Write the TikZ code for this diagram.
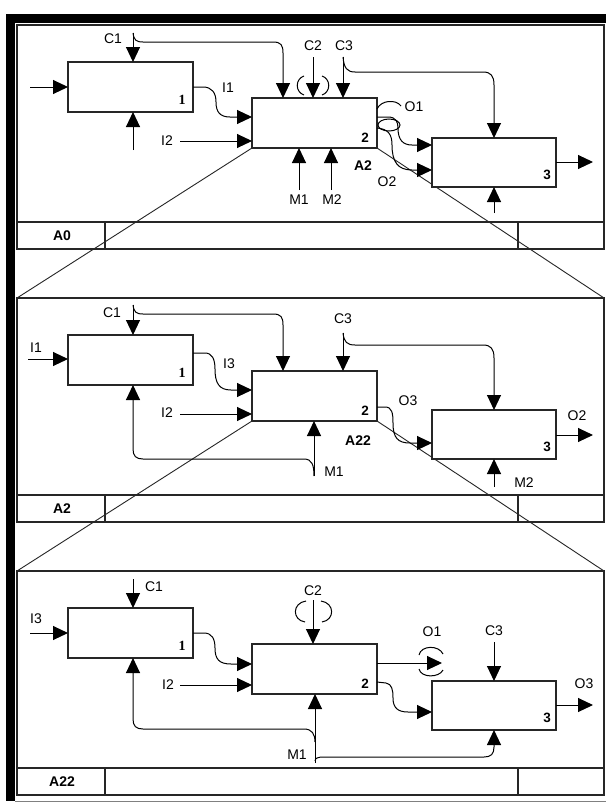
\documentclass[tikz,border=0pt]{standalone}
\usepackage{fontspec}
\setmainfont{Liberation Sans}
\newfontfamily\numserif{Liberation Serif}
\usetikzlibrary{arrows.meta,calc}
\pgfdeclarelayer{bg}
\pgfsetlayers{bg,main}
\tikzset{
  lab/.style={font=\fontsize{14}{16}\selectfont, inner sep=0pt},
  foot/.style={font=\fontsize{14}{16}\selectfont\bfseries, inner sep=0pt},
  num/.style={font=\fontsize{13.5}{15}\selectfont\bfseries, inner sep=0pt},
  blk/.style={draw=black!85, line width=1.4pt, fill=white, minimum width=125pt, minimum height=50pt, inner sep=0pt, outer sep=0pt, anchor=north west},
  conn/.style={line width=1pt},
  arr/.style={conn, -{Triangle[length=15pt,width=14pt]}},
  frm/.style={draw=black!85, line width=1.8pt},
  zoomline/.style={line width=0.9pt, black!85},
}
\newcommand\drawframe[2]{%
  \draw[frm] (17,25) rectangle (604,249);
  \draw[frm] (17,222) -- (604,222);
  \draw[frm] (105,222) -- (105,249);
  \draw[frm] (518,222) -- (518,249);
  \node[foot] (#1foot) at (62,236) {#2};
  \coordinate (#1tl) at (17,25);
  \coordinate (#1tr) at (604,25);
}
\begin{document}
\begin{tikzpicture}[x=1pt,y=-1pt]
\useasboundingbox (0,0) rectangle (606,803);
\begin{pgfonlayer}{bg}
\fill[white] (0,0) rectangle (606,803);
\end{pgfonlayer}
\fill[black] (6,14) rectangle (606,23);
\fill[black] (6,14) rectangle (15,801);
\draw[gray, line width=0.8pt] (15,801) -- (606,801);

% ---------------- Panel 1 (A0)
\begin{scope}
\drawframe{p1}{A0}
\node[blk] (p1b1) at (68,62) {};
\node[blk] (p1b2) at (252,98) {};
\node[blk, minimum width=124pt, minimum height=49pt] (p1b3) at (432,138) {};
\node[num, font=\fontsize{14}{15}\selectfont\numserif\bfseries] (p1n1) at ($(p1b1.south east)+(-11,-12)$) {1};
\node[num] (p1n2) at ($(p1b2.south east)+(-12,-10)$) {2};
\node[num] (p1n3) at ($(p1b3.south east)+(-9,-12)$) {3};
% input
\coordinate (p1in) at (30,87);
\draw[arr] (p1in) -- (p1b1.west);
% C1
\coordinate (p1c1) at (133,33);
\node[lab] (p1lc1) at (113,39) {C1};
\draw[arr] (p1c1) -- (p1b1.north -| p1c1);
\draw[arr] (p1c1) .. controls (134,40) and (136,42) .. (143,42) -- (273,42) .. controls (281,42) and (283,45) .. (283,53) -- (p1b2.north -| 283,0);
% mechanism b1
\coordinate (p1m0) at (133,150);
\draw[arr] (p1m0) -- (p1b1.south -| p1m0);
% I1
\node[lab] (p1li1) at (228,88) {I1};
\draw[arr] (p1b1.east) -- (203,87) .. controls (212,87) and (216,93) .. (216,102) .. controls (216,112) and (220,117) .. (230,117) -- (p1b2.west |- 0,117);
% I2
\node[lab] (p1li2) at (167,141) {I2};
\coordinate (p1i2) at (180,141);
\draw[arr] (p1i2) -- (p1b2.west |- p1i2);
% C2
\node[lab] (p1lc2) at (313,46) {C2};
\coordinate (p1c2) at (313,57);
\draw[arr] (p1c2) -- (p1b2.north -| p1c2);
\draw[conn] (304,76) .. controls (295,79) and (295,92) .. (304,95);
\draw[conn] (322,76) .. controls (331,79) and (331,92) .. (322,95);
% C3
\node[lab] (p1lc3) at (344,46) {C3};
\coordinate (p1c3) at (343,57);
\draw[arr] (p1c3) -- (p1b2.north -| p1c3);
\draw[arr] (p1c3) .. controls (344,68) and (347,72) .. (355,72) -- (483,72) .. controls (491,72) and (494,76) .. (494,85) -- (p1b3.north -| 494,0);
% O1 / O2
\node[lab] (p1lo1) at (414,107) {O1};
\draw[conn] (p1b2.east |- 0,109) .. controls (381,100) and (396,99) .. (401,106);
\draw[conn] (389,125) ellipse [x radius=11, y radius=6];
\draw[arr] (p1b2.east |- 0,117) -- (388,117) .. controls (396,117) and (398,122) .. (398,128) .. controls (398,140) and (403,145) .. (412,145) -- (p1b3.west |- 0,145);
\draw[arr] (p1b2.east |- 0,128) .. controls (388,129) and (392,134) .. (392,145) .. controls (392,162) and (398,170) .. (412,170) -- (p1b3.west |- 0,170);
\node[foot] (p1la2) at (363,166) {A2};
\node[lab] (p1lo2) at (387,182) {O2};
% M1 M2
\node[lab] (p1lm1) at (299,200) {M1};
\node[lab] (p1lm2) at (332,200) {M2};
\coordinate (p1m1) at (299,190);
\coordinate (p1m2) at (331,190);
\draw[arr] (p1m1) -- (p1b2.south -| p1m1);
\draw[arr] (p1m2) -- (p1b2.south -| p1m2);
% b3 output and mechanism
\coordinate (p1o3) at (593,162);
\draw[arr] (p1b3.east |- p1o3) -- (p1o3);
\coordinate (p1m3) at (494,213);
\draw[arr] (p1m3) -- (p1b3.south -| p1m3);
\end{scope}

% ---------------- Panel 2 (A2)
\begin{scope}[shift={(0,273)}]
\drawframe{p2}{A2}
\node[blk] (p2b1) at (68,62) {};
\node[blk] (p2b2) at (252,98) {};
\node[blk, minimum width=124pt, minimum height=49pt] (p2b3) at (432,137) {};
\node[num, font=\fontsize{14}{15}\selectfont\numserif\bfseries] (p2n1) at ($(p2b1.south east)+(-11,-12)$) {1};
\node[num] (p2n2) at ($(p2b2.south east)+(-12,-10)$) {2};
\node[num] (p2n3) at ($(p2b3.south east)+(-9,-12)$) {3};
% I1
\node[lab] (p2li1) at (36,75) {I1};
\coordinate (p2in) at (28,86);
\draw[arr] (p2in) -- (p2b1.west |- p2in);
% C1
\node[lab] (p2lc1) at (112,40) {C1};
\coordinate (p2c1) at (133,32);
\draw[arr] (p2c1) -- (p2b1.north -| p2c1);
\draw[arr] (p2c1) .. controls (134,39) and (136,41) .. (143,41) -- (273,41) .. controls (281,41) and (283,44) .. (283,52) -- (p2b2.north -| 283,0);
% I3
\node[lab] (p2li3) at (229,91) {I3};
\draw[arr] (p2b1.east |- 0,80) -- (205,80) .. controls (212,80) and (215,86) .. (215,96) .. controls (215,110) and (219,117) .. (231,117) -- (p2b2.west |- 0,117);
% I2
\node[lab] (p2li2) at (167,140) {I2};
\coordinate (p2i2) at (180,141);
\draw[arr] (p2i2) -- (p2b2.west |- p2i2);
% C3
\node[lab] (p2lc3) at (343,46) {C3};
\coordinate (p2c3) at (343,60);
\draw[arr] (p2c3) -- (p2b2.north -| p2c3);
\draw[arr] (p2c3) .. controls (344,69) and (347,72) .. (355,72) -- (483,72) .. controls (491,72) and (494,76) .. (494,85) -- (p2b3.north -| 494,0);
% M1
\node[lab] (p2lm1) at (334,199) {M1};
\coordinate (p2m1) at (314,203);
\draw[arr] (p2m1) -- (p2b2.south -| p2m1);
\draw[arr] (p2m1) .. controls (314,192) and (312,186) .. (304,186) -- (143,186) .. controls (136,186) and (133,183) .. (133,176) -- (p2b1.south -| 133,0);
% O3
\node[lab] (p2lo3) at (408,128) {O3};
\draw[arr] (p2b2.east |- 0,134) -- (385,134) .. controls (392,134) and (393,140) .. (393,150) .. controls (393,165) and (398,170) .. (410,170) -- (p2b3.west |- 0,170);
\node[foot] (p2la22) at (358,168) {A22};
% O2
\node[lab] (p2lo2) at (577,143) {O2};
\coordinate (p2o2) at (593,162);
\draw[arr] (p2b3.east |- p2o2) -- (p2o2);
% M2
\node[lab] (p2lm2) at (524,210) {M2};
\coordinate (p2m2) at (494,214);
\draw[arr] (p2m2) -- (p2b3.south -| p2m2);
\end{scope}

% ---------------- Panel 3 (A22)
\begin{scope}[shift={(0,546)}]
\drawframe{p3}{A22}
\node[blk] (p3b1) at (68,62) {};
\node[blk] (p3b2) at (252,98) {};
\node[blk, minimum width=124pt, minimum height=49pt] (p3b3) at (432,135) {};
\node[num, font=\fontsize{14}{15}\selectfont\numserif\bfseries] (p3n1) at ($(p3b1.south east)+(-11,-12)$) {1};
\node[num] (p3n2) at ($(p3b2.south east)+(-12,-10)$) {2};
\node[num] (p3n3) at ($(p3b3.south east)+(-9,-12)$) {3};
% I3
\node[lab] (p3li3) at (36,73) {I3};
\coordinate (p3in) at (30,87);
\draw[arr] (p3in) -- (p3b1.west |- p3in);
% C1
\node[lab] (p3lc1) at (154,41) {C1};
\coordinate (p3c1) at (133,33);
\draw[arr] (p3c1) -- (p3b1.north -| p3c1);
% b1 -> b2
\draw[arr] (p3b1.east) -- (204,87) .. controls (212,87) and (215,93) .. (215,102) .. controls (215,113) and (219,118) .. (231,118) -- (p3b2.west |- 0,118);
% I2
\node[lab] (p3li2) at (168,139) {I2};
\coordinate (p3i2) at (180,139);
\draw[arr] (p3i2) -- (p3b2.west |- p3i2);
% M1
\node[lab] (p3lm1) at (297,209) {M1};
\coordinate (p3m1) at (315,217);
\draw[arr] (p3m1) -- (p3b2.south -| p3m1);
\draw[arr] (315,196) .. controls (315,188) and (312,183) .. (304,183) -- (143,183) .. controls (136,183) and (133,180) .. (133,173) -- (p3b1.south -| 133,0);
\draw[arr] (315,215) .. controls (315,212) and (318,211) .. (324,211) -- (484,211) .. controls (491,211) and (494,208) .. (494,201) -- (p3b3.south -| 494,0);
% C2
\node[lab] (p3lc2) at (313,45) {C2};
\coordinate (p3c2) at (313,54);
\draw[arr] (p3c2) -- (p3b2.north -| p3c2);
\draw[conn] (306,55) .. controls (292,57) and (292,74) .. (305,76);
\draw[conn] (321,55) .. controls (335,57) and (335,74) .. (322,76);
% O1
\node[lab] (p3lo1) at (432,86) {O1};
\coordinate (p3o1) at (442,117);
\draw[arr] (p3b2.east |- p3o1) -- (p3o1);
\draw[conn] (419,109) .. controls (421,99) and (439,99) .. (443,108);
\draw[conn] (419,123) .. controls (421,132) and (439,132) .. (443,124);
% b2 -> b3
\draw[arr] (p3b2.east |- 0,136) -- (386,137) .. controls (392,138) and (393,144) .. (393,152) .. controls (393,162) and (398,166) .. (408,166) -- (p3b3.west |- 0,166);
% C3
\node[lab] (p3lc3) at (494,85) {C3};
\coordinate (p3c3) at (494,96);
\draw[arr] (p3c3) -- (p3b3.north -| p3c3);
% O3
\node[lab] (p3lo3) at (584,138) {O3};
\coordinate (p3o3) at (593,159);
\draw[arr] (p3b3.east |- p3o3) -- (p3o3);
\end{scope}

% zoom lines
\begin{pgfonlayer}{bg}
\draw[zoomline] (p1b2.south west) -- (p2tl);
\draw[zoomline] (p1b2.south east) -- (p2tr);
\draw[zoomline] (p2b2.south west) -- (p3tl);
\draw[zoomline] (p2b2.south east) -- (p3tr);
\end{pgfonlayer}
\end{tikzpicture}
\end{document}
